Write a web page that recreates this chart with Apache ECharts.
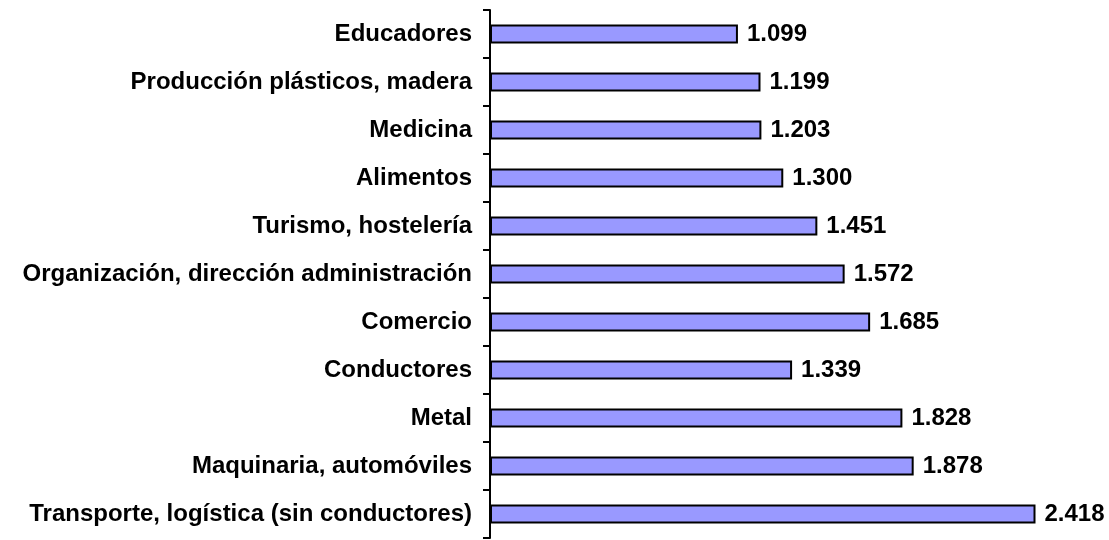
<!DOCTYPE html>
<html>
<head>
<meta charset="utf-8">
<script src="https://cdn.jsdelivr.net/npm/echarts@6/dist/echarts.min.js"></script>
<style>
  html, body { margin: 0; padding: 0; background: #fff; }
  #chart { width: 1109px; height: 540px; }
</style>
</head>
<body>
<div id="chart"></div>
<script>
// categorias de arriba hacia abajo
var categories = [
  'Educadores',
  'Producción plásticos, madera',
  'Medicina',
  'Alimentos',
  'Turismo, hostelería',
  'Organización, dirección administración',
  'Comercio',
  'Conductores',
  'Metal',
  'Maquinaria, automóviles',
  'Transporte, logística (sin conductores)'
];
var values = [1099, 1199, 1203, 1300, 1451, 1572, 1685, 1339, 1828, 1878, 2418];

var chart = echarts.init(document.getElementById('chart'), null, { renderer: 'canvas' });

// 1099 -> "1.099"
function fmt(v) {
  return String(v).replace(/\B(?=(\d{3})+(?!\d))/g, '.');
}

var option = {
  animation: false,
  backgroundColor: '#ffffff',
  grid: {
    left: 490,
    top: 10,
    width: 564,
    height: 528
  },
  xAxis: {
    type: 'value',
    min: 0,
    max: 2500,
    show: false
  },
  yAxis: {
    type: 'category',
    inverse: true,
    data: categories,
    axisLine: { show: true, lineStyle: { color: '#000', width: 2 } },
    axisTick: { show: true, length: 7, lineStyle: { color: '#000', width: 2 } },
    axisLabel: {
      margin: 18,
      color: '#000',
      fontFamily: 'Liberation Sans, Arial, sans-serif',
      fontWeight: 'bold',
      fontSize: 24
    }
  },
  series: [{
    type: 'bar',
    data: values,
    barWidth: 19,
    itemStyle: {
      color: '#9999FF',
      borderColor: '#000',
      borderWidth: 2
    },
    label: {
      show: true,
      position: 'right',
      distance: 9,
      color: '#000',
      fontFamily: 'Liberation Sans, Arial, sans-serif',
      fontWeight: 'bold',
      fontSize: 24,
      formatter: function (p) { return fmt(p.value); }
    }
  }]
};
chart.setOption(option);
</script>
</body>
</html>
